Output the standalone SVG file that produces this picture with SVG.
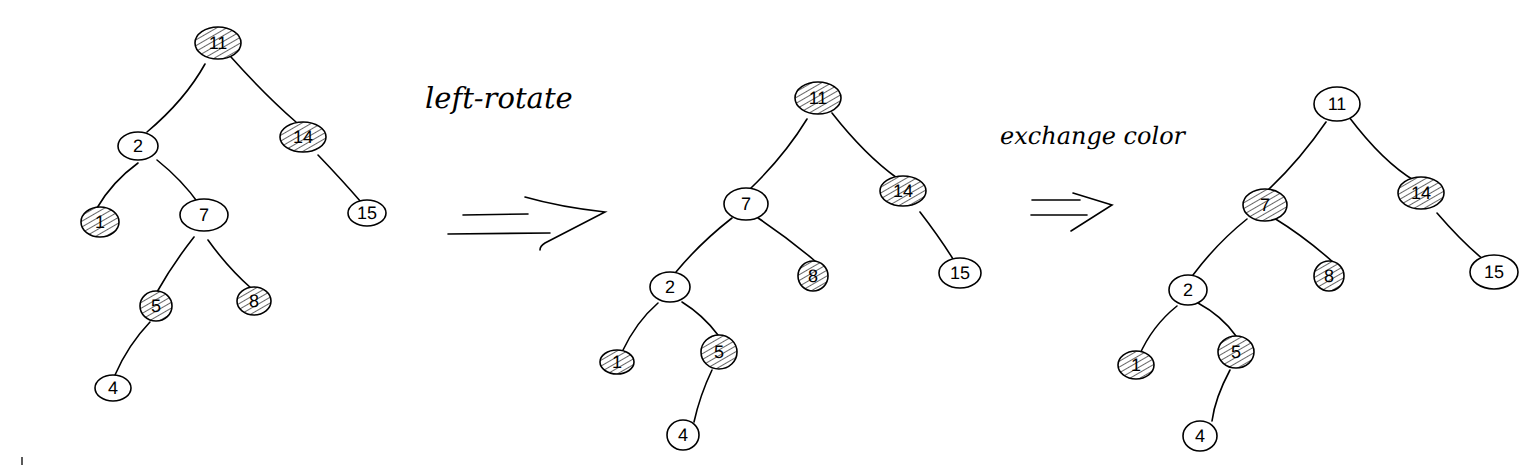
<svg xmlns="http://www.w3.org/2000/svg" width="1529" height="465" viewBox="0 0 1529 465">
<style>
.n{fill:#fff;stroke:#000;stroke-width:1.6}
.h{fill:url(#hatch);stroke:#000;stroke-width:1.6}
.t{font-family:"Liberation Sans","DejaVu Sans",sans-serif;font-size:18px;fill:#000;text-anchor:middle;dominant-baseline:central;text-rendering:geometricPrecision}
.s{stroke:#000;stroke-width:1.3;fill:none}
.e{stroke:#000;stroke-width:1.6;fill:none;stroke-linecap:round}
.lbl{font-family:"DejaVu Serif","Liberation Serif",serif;font-style:italic;fill:#000;text-rendering:geometricPrecision}
</style>
<defs>
<pattern id="hatch" width="5" height="5" patternUnits="userSpaceOnUse" patternTransform="rotate(-30)">
<rect width="5" height="5" fill="#fff"/>
<line x1="0" y1="2.5" x2="5" y2="2.5" stroke="#666" stroke-width="1"/>
</pattern>
</defs>

<g id="connectors">
<!-- tree 1 -->
<path class="e" d="M205,64 Q185,100 147,132"/>
<path class="e" d="M231,57 Q265,95 296,122"/>
<path class="e" d="M138,163 Q112,182 97,208"/>
<path class="e" d="M157,160 Q182,180 199,204"/>
<path class="e" d="M318,155 Q342,180 361,202"/>
<path class="e" d="M194,237 Q172,265 157,292"/>
<path class="e" d="M208,240 Q228,268 252,289"/>
<path class="e" d="M150,322 Q128,345 115,375"/>
<!-- tree 2 -->
<path class="e" d="M807,119 Q785,155 751,188"/>
<path class="e" d="M832,113 Q865,155 897,178"/>
<path class="e" d="M732,218 Q700,243 676,272"/>
<path class="e" d="M758,218 Q788,238 815,261"/>
<path class="e" d="M920,212 Q940,238 953,259"/>
<path class="e" d="M658,303 Q636,322 622,352"/>
<path class="e" d="M682,302 Q703,315 718,335"/>
<path class="e" d="M712,370 Q700,395 694,422"/>
<!-- tree 3 -->
<path class="e" d="M1326,122 Q1300,160 1267,191"/>
<path class="e" d="M1349,117 Q1383,162 1415,181"/>
<path class="e" d="M1247,219 Q1217,243 1193,275"/>
<path class="e" d="M1274,218 Q1305,237 1334,263"/>
<path class="e" d="M1437,213 Q1462,242 1484,260"/>
<path class="e" d="M1177,306 Q1152,326 1139,356"/>
<path class="e" d="M1198,303 Q1222,316 1236,336"/>
<path class="e" d="M1230,370 Q1215,398 1212,421"/>
</g>

<g id="arrow1">
<path class="e" d="M463,215 L528,214"/>
<path class="e" d="M448,234 L550,233"/>
<path class="e" d="M525,197 Q560,207 605,212 L545,243 Q540,246 540,250"/>
</g>
<g id="arrow2">
<path class="e" d="M1032,200 L1080,200"/>
<path class="e" d="M1031,215 L1087,215"/>
<path class="e" d="M1073,193 L1112,205 L1071,231"/>
</g>
<text id="label1" class="lbl" x="425" y="108" font-size="29">left-rotate</text>
<text id="label2" class="lbl" x="1000" y="144" font-size="24">exchange color</text>

<!-- tree 1 -->
<g id="t1-11"><ellipse class="h" cx="218" cy="43" rx="23" ry="16"/><text class="t" x="218" y="43">11</text></g>
<g id="t1-2"><ellipse class="n" cx="138" cy="146" rx="20" ry="14"/><text class="t" x="138" y="146">2</text></g>
<g id="t1-14"><ellipse class="h" cx="303" cy="137" rx="23" ry="15"/><text class="t" x="303" y="137">14</text></g>
<g id="t1-1"><ellipse class="h" cx="100" cy="222" rx="19" ry="15"/><text class="t" x="100" y="222">1</text></g>
<g id="t1-7"><ellipse class="n" cx="204" cy="215" rx="24" ry="16"/><text class="t" x="204" y="215">7</text></g>
<g id="t1-15"><ellipse class="n" cx="367" cy="213" rx="19" ry="13"/><text class="t" x="367" y="213">15</text></g>
<g id="t1-5"><ellipse class="h" cx="156" cy="306" rx="16" ry="15"/><text class="t" x="156" y="306">5</text></g>
<g id="t1-8"><ellipse class="h" cx="254" cy="301" rx="17" ry="14"/><text class="t" x="254" y="301">8</text></g>
<g id="t1-4"><ellipse class="n" cx="113" cy="388" rx="18" ry="13"/><text class="t" x="113" y="388">4</text></g>

<!-- tree 2 -->
<g id="t2-11"><ellipse class="h" cx="818" cy="98" rx="23" ry="16"/><text class="t" x="818" y="98">11</text></g>
<g id="t2-7"><ellipse class="n" cx="746" cy="204" rx="22" ry="16"/><text class="t" x="746" y="204">7</text></g>
<g id="t2-14"><ellipse class="h" cx="903" cy="191" rx="23" ry="15"/><text class="t" x="903" y="191">14</text></g>
<g id="t2-2"><ellipse class="n" cx="670" cy="287" rx="20" ry="15"/><text class="t" x="670" y="287">2</text></g>
<g id="t2-8"><ellipse class="h" cx="813" cy="276" rx="15" ry="15"/><text class="t" x="813" y="276">8</text></g>
<g id="t2-15"><ellipse class="n" cx="960" cy="273" rx="21" ry="15"/><text class="t" x="960" y="273">15</text></g>
<g id="t2-1"><ellipse class="h" cx="617" cy="362" rx="17" ry="12"/><text class="t" x="617" y="362">1</text></g>
<g id="t2-5"><ellipse class="h" cx="719" cy="352" rx="18" ry="17"/><text class="t" x="719" y="352">5</text></g>
<g id="t2-4"><ellipse class="n" cx="683" cy="435" rx="16" ry="15"/><text class="t" x="683" y="435">4</text></g>

<!-- tree 3 -->
<g id="t3-11"><ellipse class="n" cx="1337" cy="104" rx="23" ry="17"/><text class="t" x="1337" y="104">11</text></g>
<g id="t3-7"><ellipse class="h" cx="1265" cy="205" rx="22" ry="16"/><text class="t" x="1265" y="205">7</text></g>
<g id="t3-14"><ellipse class="h" cx="1421" cy="193" rx="23" ry="16"/><text class="t" x="1421" y="193">14</text></g>
<g id="t3-2"><ellipse class="n" cx="1188" cy="290" rx="19" ry="15"/><text class="t" x="1188" y="290">2</text></g>
<g id="t3-8"><ellipse class="h" cx="1329" cy="276" rx="15" ry="15"/><text class="t" x="1329" y="276">8</text></g>
<g id="t3-15"><ellipse class="n" cx="1494" cy="272" rx="24" ry="17"/><text class="t" x="1494" y="272">15</text></g>
<g id="t3-1"><ellipse class="h" cx="1136" cy="365" rx="18" ry="14"/><text class="t" x="1136" y="365">1</text></g>
<g id="t3-5"><ellipse class="h" cx="1236" cy="352" rx="18" ry="16"/><text class="t" x="1236" y="352">5</text></g>
<g id="t3-4"><ellipse class="n" cx="1200" cy="436" rx="17" ry="15"/><text class="t" x="1200" y="436">4</text></g>

<line class="s" x1="22" y1="457" x2="22" y2="465"/>
</svg>
